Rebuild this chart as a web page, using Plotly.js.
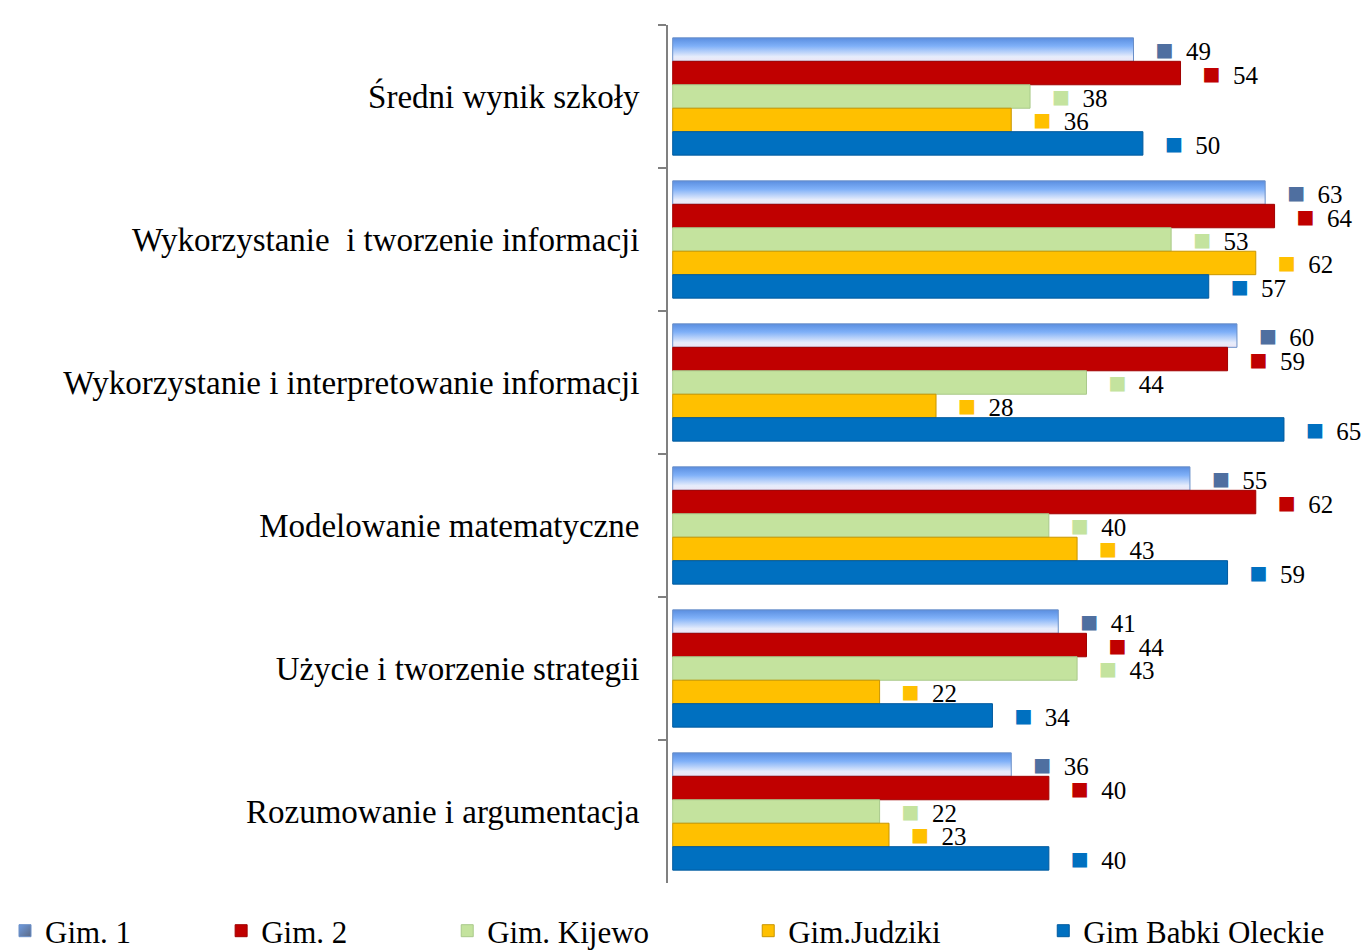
<!DOCTYPE html>
<html>
<head>
<meta charset="utf-8">
<script src="https://cdn.plot.ly/plotly-3.0.1.min.js"></script>
<style>html,body{margin:0;padding:0;background:#fff;}#chart{width:1369px;height:951px;}</style>
</head>
<body>
<div id="chart"></div>
<script>
const categories = [
  "Średni wynik szkoły",
  "Wykorzystanie  i tworzenie informacji",
  "Wykorzystanie i interpretowanie informacji",
  "Modelowanie matematyczne",
  "Użycie i tworzenie strategii",
  "Rozumowanie i argumentacja"
];
const seriesNames = ["Gim. 1", "Gim. 2", "Gim. Kijewo", "Gim.Judziki", "Gim Babki Oleckie"];
const gim1 = [49, 63, 60, 55, 41, 36];
const gim2 = [54, 64, 59, 62, 44, 40];
const kijewo = [38, 53, 44, 40, 43, 22];
const judziki = [36, 62, 28, 43, 22, 23];
const babki = [50, 57, 65, 59, 34, 40];

const values = [gim1, gim2, kijewo, judziki, babki];
const colors = ["#8DB9F5", "#C00000", "#C4E39E", "#FFC000", "#0070C0"];
const lineColors = ["#6A8FC8", "#A00000", "#A9C98A", "#C89600", "#005A9E"];
const squareColors = ["#4F6FA0", "#C00000", "#C4E39E", "#FFC000", "#0070C0"];
const legendX = [-1.0, -0.674, -0.333, 0.121, 0.566];

const nb = "\u00A0";
const traces = values.map((vals, i) => ({
  type: "bar",
  orientation: "h",
  name: seriesNames[i],
  y: categories,
  x: vals,
  marker: { color: colors[i], line: { color: lineColors[i], width: 1 } },
  text: vals.map(v => nb + nb + nb + '<span style="color:' + squareColors[i] + ';font-size:30px">■</span>' + nb + nb + v),
  textposition: "outside",
  constraintext: "none",
  cliponaxis: false,
  textfont: { family: "Liberation Serif", size: 25, color: "#000" },
  hoverinfo: "x+name",
  legend: i === 0 ? "legend" : "legend" + (i + 1)
}));

const legendBase = {
  orientation: "h",
  y: -0.056,
  yanchor: "middle",
  xanchor: "left",
  font: { family: "Liberation Serif", size: 31, color: "#000" },
  bgcolor: "rgba(0,0,0,0)",
  itemwidth: 30
};

const layout = {
  width: 1369,
  height: 951,
  margin: { l: 668, r: 38, t: 25, b: 68, autoexpand: false },
  paper_bgcolor: "#fff",
  plot_bgcolor: "#fff",
  barmode: "group",
  bargap: 0.18,
  bargroupgap: 0,
  showlegend: true,
  xaxis: {
    range: [-0.5, 70],
    showgrid: false,
    zeroline: false,
    showticklabels: false,
    ticks: "",
    showline: false
  },
  yaxis: {
    type: "category",
    autorange: "reversed",
    showline: true,
    linecolor: "#808080",
    linewidth: 2,
    ticks: "outside",
    tickson: "boundaries",
    ticklen: 8,
    tickwidth: 2,
    tickcolor: "#808080",
    ticklabelstandoff: 20,
    tickfont: { family: "Liberation Serif", size: 33, color: "#000" },
    showgrid: false
  },
  legend: Object.assign({}, legendBase, { x: legendX[0] }),
  legend2: Object.assign({}, legendBase, { x: legendX[1] }),
  legend3: Object.assign({}, legendBase, { x: legendX[2] }),
  legend4: Object.assign({}, legendBase, { x: legendX[3] }),
  legend5: Object.assign({}, legendBase, { x: legendX[4] })
};

Plotly.newPlot("chart", traces, layout, { displayModeBar: false, staticPlot: true }).then(gd => {
  const svg = gd.querySelector("svg.main-svg");
  const ns = "http://www.w3.org/2000/svg";
  let defs = svg.querySelector("defs");
  if (!defs) { defs = document.createElementNS(ns, "defs"); svg.insertBefore(defs, svg.firstChild); }
  const grad = document.createElementNS(ns, "linearGradient");
  grad.setAttribute("id", "gim1grad");
  grad.setAttribute("x1", "0"); grad.setAttribute("y1", "0");
  grad.setAttribute("x2", "0"); grad.setAttribute("y2", "1");
  [["0", "#5A8EE0"], ["0.35", "#7FB0F8"], ["0.8", "#E6ECFB"], ["1", "#EDE6F5"]].forEach(s => {
    const st = document.createElementNS(ns, "stop");
    st.setAttribute("offset", s[0]); st.setAttribute("stop-color", s[1]);
    grad.appendChild(st);
  });
  defs.appendChild(grad);
  const g2 = document.createElementNS(ns, "linearGradient");
  g2.setAttribute("id", "gim1leg");
  g2.setAttribute("x1", "0"); g2.setAttribute("y1", "0");
  g2.setAttribute("x2", "1"); g2.setAttribute("y2", "1");
  [["0", "#6E9BE0"], ["1", "#5C6A85"]].forEach(s => {
    const st = document.createElementNS(ns, "stop");
    st.setAttribute("offset", s[0]); st.setAttribute("stop-color", s[1]);
    g2.appendChild(st);
  });
  defs.appendChild(g2);
  const firstTrace = gd.querySelector(".barlayer .trace.bars");
  if (firstTrace) firstTrace.querySelectorAll(".point path").forEach(p => { p.style.fill = "url(#gim1grad)"; });
  const leg = gd.querySelector(".legend .traces .legendpoints path");
  if (leg) leg.style.fill = "url(#gim1leg)";
});
</script>
</body>
</html>
